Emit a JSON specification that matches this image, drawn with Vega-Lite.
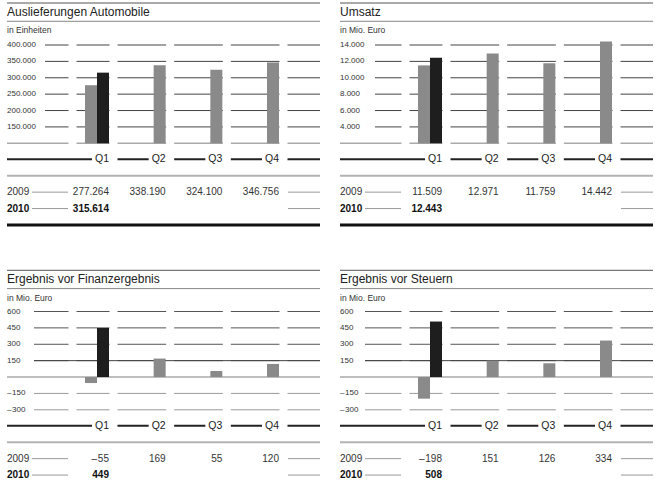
{
  "$schema": "https://vega.github.io/schema/vega-lite/v6.json",
  "padding": {"left": 5, "top": 0, "right": 0, "bottom": 0},
  "width": 646,
  "height": 480,
  "config": {
    "view": {"stroke": null},
    "font": "Liberation Sans",
    "axis": {"disable": true},
    "locale": {"number": {"decimal": ",", "thousands": ".", "grouping": [3], "currency": ["", " €"], "minus": "–\u200a"}}
  },
  "datasets": {
    "bars": [
      {"p": "A", "q": 1, "year": "2009", "value": 277264},
      {"p": "A", "q": 2, "year": "2009", "value": 338190},
      {"p": "A", "q": 3, "year": "2009", "value": 324100},
      {"p": "A", "q": 4, "year": "2009", "value": 346756},
      {"p": "A", "q": 1, "year": "2010", "value": 315614},
      {"p": "B", "q": 1, "year": "2009", "value": 11509},
      {"p": "B", "q": 2, "year": "2009", "value": 12971},
      {"p": "B", "q": 3, "year": "2009", "value": 11759},
      {"p": "B", "q": 4, "year": "2009", "value": 14442},
      {"p": "B", "q": 1, "year": "2010", "value": 12443},
      {"p": "C", "q": 1, "year": "2009", "value": -55},
      {"p": "C", "q": 2, "year": "2009", "value": 169},
      {"p": "C", "q": 3, "year": "2009", "value": 55},
      {"p": "C", "q": 4, "year": "2009", "value": 120},
      {"p": "C", "q": 1, "year": "2010", "value": 449},
      {"p": "D", "q": 1, "year": "2009", "value": -198},
      {"p": "D", "q": 2, "year": "2009", "value": 151},
      {"p": "D", "q": 3, "year": "2009", "value": 126},
      {"p": "D", "q": 4, "year": "2009", "value": 334},
      {"p": "D", "q": 1, "year": "2010", "value": 508}
    ],
    "panels": [
      {"p": "A", "title": "Auslieferungen Automobile", "unit": "in Einheiten"},
      {"p": "B", "title": "Umsatz", "unit": "in Mio. Euro"},
      {"p": "C", "title": "Ergebnis vor Finanzergebnis", "unit": "in Mio. Euro"},
      {"p": "D", "title": "Ergebnis vor Steuern", "unit": "in Mio. Euro"}
    ],
    "ticks": [
      {"p": "A", "tick": 400000}, {"p": "A", "tick": 350000}, {"p": "A", "tick": 300000},
      {"p": "A", "tick": 250000}, {"p": "A", "tick": 200000}, {"p": "A", "tick": 150000},
      {"p": "B", "tick": 14000}, {"p": "B", "tick": 12000}, {"p": "B", "tick": 10000},
      {"p": "B", "tick": 8000}, {"p": "B", "tick": 6000}, {"p": "B", "tick": 4000},
      {"p": "C", "tick": 600}, {"p": "C", "tick": 450}, {"p": "C", "tick": 300},
      {"p": "C", "tick": 150}, {"p": "C", "tick": -150}, {"p": "C", "tick": -300},
      {"p": "D", "tick": 600}, {"p": "D", "tick": 450}, {"p": "D", "tick": 300},
      {"p": "D", "tick": 150}, {"p": "D", "tick": -150}, {"p": "D", "tick": -300}
    ],
    "quarters": [
      {"q": 1, "label": "Q1"}, {"q": 2, "label": "Q2"}, {"q": 3, "label": "Q3"}, {"q": 4, "label": "Q4"}
    ],
    "cols": [{"c": 0}, {"c": 1}, {"c": 2}, {"c": 3}, {"c": 4}],
    "years": [{"year": "2009"}, {"year": "2010"}]
  },
  "resolve": {"scale": {"x": "independent", "y": "independent"}},
  "layer": [
    {
      "resolve": {"scale": {"y": "independent"}},
      "layer": [
        {"layer": [
          {"data": {"name": "ticks"}, "transform": [{"filter": "datum.p == 'A'"}],
           "mark": {"type": "rule", "color": "#444", "strokeWidth": 1},
           "encoding": {
             "x": {"datum": -0.5, "type": "quantitative", "scale": {"type": "linear", "domain": [-1, -0.5, 0, 1, 4, 5], "range": [0, 38, 61, 102, 272, 313], "nice": false, "zero": false}, "axis": null},
             "x2": {"datum": 5},
             "y": {"field": "tick", "type": "quantitative", "scale": {"domain": [100000, 400000], "range": [143.3, 45], "nice": false, "zero": false}, "axis": null}}},
          {"data": {"values": [{}]},
           "mark": {"type": "rule", "color": "#aaa", "strokeWidth": 1.5},
           "encoding": {"x": {"datum": -1, "type": "quantitative"}, "x2": {"datum": 5}, "y": {"datum": 100000, "type": "quantitative"}}},
          {"data": {"name": "cols"},
           "mark": {"type": "rect", "color": "white", "xOffset": 0.5, "x2Offset": 8.5, "yOffset": -3, "y2Offset": 3},
           "encoding": {"x": {"field": "c", "type": "quantitative"}, "x2": {"field": "c"}, "y": {"datum": 400000, "type": "quantitative"}, "y2": {"datum": 100000}}},
          {"data": {"name": "bars"}, "transform": [{"filter": "datum.p == 'A' && datum.year == '2009' && datum.q > 1"}],
           "mark": {"type": "rect", "color": "#8a8a8a", "xOffset": -12},
           "encoding": {"x": {"field": "q", "type": "quantitative"}, "x2": {"field": "q"}, "y": {"field": "value", "type": "quantitative"}, "y2": {"datum": 100000}}},
          {"data": {"name": "bars"}, "transform": [{"filter": "datum.p == 'A' && datum.year == '2009' && datum.q == 1"}],
           "mark": {"type": "rect", "color": "#8a8a8a", "xOffset": -24, "x2Offset": -12},
           "encoding": {"x": {"field": "q", "type": "quantitative"}, "x2": {"field": "q"}, "y": {"field": "value", "type": "quantitative"}, "y2": {"datum": 100000}}},
          {"data": {"name": "bars"}, "transform": [{"filter": "datum.p == 'A' && datum.year == '2010'"}],
           "mark": {"type": "rect", "color": "#1e1e1e", "xOffset": -12},
           "encoding": {"x": {"field": "q", "type": "quantitative"}, "x2": {"field": "q"}, "y": {"field": "value", "type": "quantitative"}, "y2": {"datum": 100000}}},
          {"data": {"name": "ticks"}, "transform": [{"filter": "datum.p == 'A'"}],
           "mark": {"type": "text", "align": "left", "baseline": "middle", "fontSize": 8, "color": "#333"},
           "encoding": {"x": {"datum": -1, "type": "quantitative"}, "y": {"field": "tick", "type": "quantitative"}, "text": {"field": "tick", "type": "quantitative", "format": ",d"}}}
        ]},
        {"layer": [
          {"data": {"values": [{}]}, "mark": {"type": "rule", "color": "#555", "strokeWidth": 1},
           "encoding": {"x": {"datum": -1, "type": "quantitative"}, "x2": {"datum": 5}, "y": {"datum": "top", "type": "nominal", "scale": {"type": "point", "domain": ["top", "title", "under", "sub"], "range": [3, 30.45], "padding": 0}, "axis": null}}},
          {"data": {"values": [{}]}, "mark": {"type": "rule", "color": "#888", "strokeWidth": 1},
           "encoding": {"x": {"datum": -1, "type": "quantitative"}, "x2": {"datum": 5}, "y": {"datum": "under", "type": "nominal"}}},
          {"data": {"name": "panels"}, "transform": [{"filter": "datum.p == 'A'"}],
           "mark": {"type": "text", "align": "left", "baseline": "middle", "fontSize": 12, "color": "#222"},
           "encoding": {"x": {"datum": -1, "type": "quantitative"}, "y": {"datum": "title", "type": "nominal"}, "text": {"field": "title", "type": "nominal"}}},
          {"data": {"name": "panels"}, "transform": [{"filter": "datum.p == 'A'"}],
           "mark": {"type": "text", "align": "left", "baseline": "middle", "fontSize": 8.5, "color": "#333"},
           "encoding": {"x": {"datum": -1, "type": "quantitative"}, "y": {"datum": "sub", "type": "nominal"}, "text": {"field": "unit", "type": "nominal"}}}
        ]},
        {"layer": [
          {"data": {"values": [{}]}, "mark": {"type": "rule", "color": "#222", "strokeWidth": 2},
           "encoding": {"x": {"datum": -1, "type": "quantitative"}, "x2": {"datum": 5}, "y": {"datum": "q", "type": "nominal", "scale": {"type": "point", "domain": ["q", "sep", "2009", "2010", "end"], "range": [159.3, 225], "padding": 0}, "axis": null}}},
          {"data": {"name": "quarters"}, "mark": {"type": "rule", "color": "white", "strokeWidth": 6, "xOffset": -17, "x2Offset": 8.5},
           "encoding": {"x": {"field": "q", "type": "quantitative"}, "x2": {"field": "q"}, "y": {"datum": "q", "type": "nominal"}}},
          {"data": {"name": "quarters"}, "mark": {"type": "text", "align": "right", "baseline": "middle", "fontSize": 10.5, "color": "#222"},
           "encoding": {"x": {"field": "q", "type": "quantitative"}, "y": {"datum": "q", "type": "nominal"}, "text": {"field": "label", "type": "nominal"}}},
          {"data": {"values": [{}]}, "mark": {"type": "rule", "color": "#b3b3b3", "strokeWidth": 2},
           "encoding": {"x": {"datum": -1, "type": "quantitative"}, "x2": {"datum": 5}, "y": {"datum": "sep", "type": "nominal"}}},
          {"data": {"name": "years"}, "mark": {"type": "rule", "color": "#999", "strokeWidth": 1, "xOffset": -36},
           "encoding": {"x": {"datum": 0, "type": "quantitative"}, "x2": {"datum": 0}, "y": {"field": "year", "type": "nominal"}}},
          {"data": {"name": "years"}, "mark": {"type": "rule", "color": "#999", "strokeWidth": 1, "xOffset": 9},
           "encoding": {"x": {"datum": 4, "type": "quantitative"}, "x2": {"datum": 5}, "y": {"field": "year", "type": "nominal"}}},
          {"data": {"name": "years"}, "transform": [{"filter": "datum.year == '2009'"}],
           "mark": {"type": "text", "align": "left", "baseline": "middle", "fontSize": 10, "color": "#333"},
           "encoding": {"x": {"datum": -1, "type": "quantitative"}, "y": {"field": "year", "type": "nominal"}, "text": {"field": "year", "type": "nominal"}}},
          {"data": {"name": "years"}, "transform": [{"filter": "datum.year == '2010'"}],
           "mark": {"type": "text", "align": "left", "baseline": "middle", "fontSize": 10, "fontWeight": "bold", "color": "#111"},
           "encoding": {"x": {"datum": -1, "type": "quantitative"}, "y": {"field": "year", "type": "nominal"}, "text": {"field": "year", "type": "nominal"}}},
          {"data": {"name": "bars"}, "transform": [{"filter": "datum.p == 'A' && datum.year == '2009'"}],
           "mark": {"type": "text", "align": "right", "baseline": "middle", "fontSize": 10, "color": "#333"},
           "encoding": {"x": {"field": "q", "type": "quantitative"}, "y": {"field": "year", "type": "nominal"}, "text": {"field": "value", "type": "quantitative", "format": ",d"}}},
          {"data": {"name": "bars"}, "transform": [{"filter": "datum.p == 'A' && datum.year == '2010'"}],
           "mark": {"type": "text", "align": "right", "baseline": "middle", "fontSize": 10, "fontWeight": "bold", "color": "#111"},
           "encoding": {"x": {"field": "q", "type": "quantitative"}, "y": {"field": "year", "type": "nominal"}, "text": {"field": "value", "type": "quantitative", "format": ",d"}}},
          {"data": {"values": [{}]}, "mark": {"type": "rule", "color": "#111", "strokeWidth": 3},
           "encoding": {"x": {"datum": -1, "type": "quantitative"}, "x2": {"datum": 5}, "y": {"datum": "end", "type": "nominal"}}}
        ]}
      ]
    },
    {
      "resolve": {"scale": {"y": "independent"}},
      "layer": [
        {"layer": [
          {"data": {"name": "ticks"}, "transform": [{"filter": "datum.p == 'B'"}],
           "mark": {"type": "rule", "color": "#444", "strokeWidth": 1},
           "encoding": {
             "x": {"datum": -0.5, "type": "quantitative", "scale": {"type": "linear", "domain": [-1, -0.5, 0, 1, 4, 5], "range": [333, 368, 394, 435, 605, 646], "nice": false, "zero": false}, "axis": null},
             "x2": {"datum": 5},
             "y": {"field": "tick", "type": "quantitative", "scale": {"domain": [2000, 14000], "range": [143.3, 45], "nice": false, "zero": false}, "axis": null}}},
          {"data": {"values": [{}]},
           "mark": {"type": "rule", "color": "#aaa", "strokeWidth": 1.5},
           "encoding": {"x": {"datum": -1, "type": "quantitative"}, "x2": {"datum": 5}, "y": {"datum": 2000, "type": "quantitative"}}},
          {"data": {"name": "cols"},
           "mark": {"type": "rect", "color": "white", "xOffset": 0.5, "x2Offset": 8.5, "yOffset": -3, "y2Offset": 3},
           "encoding": {"x": {"field": "c", "type": "quantitative"}, "x2": {"field": "c"}, "y": {"datum": 14000, "type": "quantitative"}, "y2": {"datum": 2000}}},
          {"data": {"name": "bars"}, "transform": [{"filter": "datum.p == 'B' && datum.year == '2009' && datum.q > 1"}],
           "mark": {"type": "rect", "color": "#8a8a8a", "xOffset": -12},
           "encoding": {"x": {"field": "q", "type": "quantitative"}, "x2": {"field": "q"}, "y": {"field": "value", "type": "quantitative"}, "y2": {"datum": 2000}}},
          {"data": {"name": "bars"}, "transform": [{"filter": "datum.p == 'B' && datum.year == '2009' && datum.q == 1"}],
           "mark": {"type": "rect", "color": "#8a8a8a", "xOffset": -24, "x2Offset": -12},
           "encoding": {"x": {"field": "q", "type": "quantitative"}, "x2": {"field": "q"}, "y": {"field": "value", "type": "quantitative"}, "y2": {"datum": 2000}}},
          {"data": {"name": "bars"}, "transform": [{"filter": "datum.p == 'B' && datum.year == '2010'"}],
           "mark": {"type": "rect", "color": "#1e1e1e", "xOffset": -12},
           "encoding": {"x": {"field": "q", "type": "quantitative"}, "x2": {"field": "q"}, "y": {"field": "value", "type": "quantitative"}, "y2": {"datum": 2000}}},
          {"data": {"name": "ticks"}, "transform": [{"filter": "datum.p == 'B'"}],
           "mark": {"type": "text", "align": "left", "baseline": "middle", "fontSize": 8, "color": "#333"},
           "encoding": {"x": {"datum": -1, "type": "quantitative"}, "y": {"field": "tick", "type": "quantitative"}, "text": {"field": "tick", "type": "quantitative", "format": ",d"}}}
        ]},
        {"layer": [
          {"data": {"values": [{}]}, "mark": {"type": "rule", "color": "#555", "strokeWidth": 1},
           "encoding": {"x": {"datum": -1, "type": "quantitative"}, "x2": {"datum": 5}, "y": {"datum": "top", "type": "nominal", "scale": {"type": "point", "domain": ["top", "title", "under", "sub"], "range": [3, 30.45], "padding": 0}, "axis": null}}},
          {"data": {"values": [{}]}, "mark": {"type": "rule", "color": "#888", "strokeWidth": 1},
           "encoding": {"x": {"datum": -1, "type": "quantitative"}, "x2": {"datum": 5}, "y": {"datum": "under", "type": "nominal"}}},
          {"data": {"name": "panels"}, "transform": [{"filter": "datum.p == 'B'"}],
           "mark": {"type": "text", "align": "left", "baseline": "middle", "fontSize": 12, "color": "#222"},
           "encoding": {"x": {"datum": -1, "type": "quantitative"}, "y": {"datum": "title", "type": "nominal"}, "text": {"field": "title", "type": "nominal"}}},
          {"data": {"name": "panels"}, "transform": [{"filter": "datum.p == 'B'"}],
           "mark": {"type": "text", "align": "left", "baseline": "middle", "fontSize": 8.5, "color": "#333"},
           "encoding": {"x": {"datum": -1, "type": "quantitative"}, "y": {"datum": "sub", "type": "nominal"}, "text": {"field": "unit", "type": "nominal"}}}
        ]},
        {"layer": [
          {"data": {"values": [{}]}, "mark": {"type": "rule", "color": "#222", "strokeWidth": 2},
           "encoding": {"x": {"datum": -1, "type": "quantitative"}, "x2": {"datum": 5}, "y": {"datum": "q", "type": "nominal", "scale": {"type": "point", "domain": ["q", "sep", "2009", "2010", "end"], "range": [159.3, 225], "padding": 0}, "axis": null}}},
          {"data": {"name": "quarters"}, "mark": {"type": "rule", "color": "white", "strokeWidth": 6, "xOffset": -17, "x2Offset": 8.5},
           "encoding": {"x": {"field": "q", "type": "quantitative"}, "x2": {"field": "q"}, "y": {"datum": "q", "type": "nominal"}}},
          {"data": {"name": "quarters"}, "mark": {"type": "text", "align": "right", "baseline": "middle", "fontSize": 10.5, "color": "#222"},
           "encoding": {"x": {"field": "q", "type": "quantitative"}, "y": {"datum": "q", "type": "nominal"}, "text": {"field": "label", "type": "nominal"}}},
          {"data": {"values": [{}]}, "mark": {"type": "rule", "color": "#b3b3b3", "strokeWidth": 2},
           "encoding": {"x": {"datum": -1, "type": "quantitative"}, "x2": {"datum": 5}, "y": {"datum": "sep", "type": "nominal"}}},
          {"data": {"name": "years"}, "mark": {"type": "rule", "color": "#999", "strokeWidth": 1, "xOffset": -36},
           "encoding": {"x": {"datum": 0, "type": "quantitative"}, "x2": {"datum": 0}, "y": {"field": "year", "type": "nominal"}}},
          {"data": {"name": "years"}, "mark": {"type": "rule", "color": "#999", "strokeWidth": 1, "xOffset": 9},
           "encoding": {"x": {"datum": 4, "type": "quantitative"}, "x2": {"datum": 5}, "y": {"field": "year", "type": "nominal"}}},
          {"data": {"name": "years"}, "transform": [{"filter": "datum.year == '2009'"}],
           "mark": {"type": "text", "align": "left", "baseline": "middle", "fontSize": 10, "color": "#333"},
           "encoding": {"x": {"datum": -1, "type": "quantitative"}, "y": {"field": "year", "type": "nominal"}, "text": {"field": "year", "type": "nominal"}}},
          {"data": {"name": "years"}, "transform": [{"filter": "datum.year == '2010'"}],
           "mark": {"type": "text", "align": "left", "baseline": "middle", "fontSize": 10, "fontWeight": "bold", "color": "#111"},
           "encoding": {"x": {"datum": -1, "type": "quantitative"}, "y": {"field": "year", "type": "nominal"}, "text": {"field": "year", "type": "nominal"}}},
          {"data": {"name": "bars"}, "transform": [{"filter": "datum.p == 'B' && datum.year == '2009'"}],
           "mark": {"type": "text", "align": "right", "baseline": "middle", "fontSize": 10, "color": "#333"},
           "encoding": {"x": {"field": "q", "type": "quantitative"}, "y": {"field": "year", "type": "nominal"}, "text": {"field": "value", "type": "quantitative", "format": ",d"}}},
          {"data": {"name": "bars"}, "transform": [{"filter": "datum.p == 'B' && datum.year == '2010'"}],
           "mark": {"type": "text", "align": "right", "baseline": "middle", "fontSize": 10, "fontWeight": "bold", "color": "#111"},
           "encoding": {"x": {"field": "q", "type": "quantitative"}, "y": {"field": "year", "type": "nominal"}, "text": {"field": "value", "type": "quantitative", "format": ",d"}}},
          {"data": {"values": [{}]}, "mark": {"type": "rule", "color": "#111", "strokeWidth": 3},
           "encoding": {"x": {"datum": -1, "type": "quantitative"}, "x2": {"datum": 5}, "y": {"datum": "end", "type": "nominal"}}}
        ]}
      ]
    },
    {
      "resolve": {"scale": {"y": "independent"}},
      "layer": [
        {"layer": [
          {"data": {"name": "ticks"}, "transform": [{"filter": "datum.p == 'C'"}],
           "mark": {"type": "rule", "strokeWidth": 1},
           "encoding": {
             "x": {"datum": -0.5, "type": "quantitative", "scale": {"type": "linear", "domain": [-1, -0.5, 0, 1, 4, 5], "range": [0, 27, 61, 102, 272, 313], "nice": false, "zero": false}, "axis": null},
             "x2": {"datum": 5},
             "y": {"field": "tick", "type": "quantitative", "scale": {"domain": [-300, 600], "range": [409.8, 311.5], "nice": false, "zero": false}, "axis": null},
             "color": {"condition": {"test": "datum.tick < 0", "value": "#999"}, "value": "#555"}}},
          {"data": {"name": "cols"},
           "mark": {"type": "rect", "color": "white", "xOffset": 0.5, "x2Offset": 8.5, "yOffset": -3, "y2Offset": 3},
           "encoding": {"x": {"field": "c", "type": "quantitative"}, "x2": {"field": "c"}, "y": {"datum": 600, "type": "quantitative"}, "y2": {"datum": -300}}},
          {"data": {"values": [{}]},
           "mark": {"type": "rule", "color": "#444", "strokeWidth": 1},
           "encoding": {"x": {"datum": -0.5, "type": "quantitative"}, "x2": {"datum": 5}, "y": {"datum": 150, "type": "quantitative"}}},
          {"data": {"values": [{}]},
           "mark": {"type": "rule", "color": "#aaa", "strokeWidth": 1.5},
           "encoding": {"x": {"datum": -1, "type": "quantitative"}, "x2": {"datum": 5}, "y": {"datum": 0, "type": "quantitative"}}},
          {"data": {"name": "bars"}, "transform": [{"filter": "datum.p == 'C' && datum.year == '2009' && datum.q > 1"}],
           "mark": {"type": "rect", "color": "#8a8a8a", "xOffset": -12},
           "encoding": {"x": {"field": "q", "type": "quantitative"}, "x2": {"field": "q"}, "y": {"field": "value", "type": "quantitative"}, "y2": {"datum": 0}}},
          {"data": {"name": "bars"}, "transform": [{"filter": "datum.p == 'C' && datum.year == '2009' && datum.q == 1"}],
           "mark": {"type": "rect", "color": "#8a8a8a", "xOffset": -24, "x2Offset": -12},
           "encoding": {"x": {"field": "q", "type": "quantitative"}, "x2": {"field": "q"}, "y": {"field": "value", "type": "quantitative"}, "y2": {"datum": 0}}},
          {"data": {"name": "bars"}, "transform": [{"filter": "datum.p == 'C' && datum.year == '2010'"}],
           "mark": {"type": "rect", "color": "#1e1e1e", "xOffset": -12},
           "encoding": {"x": {"field": "q", "type": "quantitative"}, "x2": {"field": "q"}, "y": {"field": "value", "type": "quantitative"}, "y2": {"datum": 0}}},
          {"data": {"name": "ticks"}, "transform": [{"filter": "datum.p == 'C'"}],
           "mark": {"type": "text", "align": "left", "baseline": "middle", "fontSize": 8, "color": "#333"},
           "encoding": {"x": {"datum": -1, "type": "quantitative"}, "y": {"field": "tick", "type": "quantitative"}, "text": {"field": "tick", "type": "quantitative", "format": ",d"}}}
        ]},
        {"layer": [
          {"data": {"values": [{}]}, "mark": {"type": "rule", "color": "#555", "strokeWidth": 1},
           "encoding": {"x": {"datum": -1, "type": "quantitative"}, "x2": {"datum": 5}, "y": {"datum": "top", "type": "nominal", "scale": {"type": "point", "domain": ["top", "title", "under", "sub"], "range": [270.3, 297.75], "padding": 0}, "axis": null}}},
          {"data": {"values": [{}]}, "mark": {"type": "rule", "color": "#888", "strokeWidth": 1},
           "encoding": {"x": {"datum": -1, "type": "quantitative"}, "x2": {"datum": 5}, "y": {"datum": "under", "type": "nominal"}}},
          {"data": {"name": "panels"}, "transform": [{"filter": "datum.p == 'C'"}],
           "mark": {"type": "text", "align": "left", "baseline": "middle", "fontSize": 12, "color": "#222"},
           "encoding": {"x": {"datum": -1, "type": "quantitative"}, "y": {"datum": "title", "type": "nominal"}, "text": {"field": "title", "type": "nominal"}}},
          {"data": {"name": "panels"}, "transform": [{"filter": "datum.p == 'C'"}],
           "mark": {"type": "text", "align": "left", "baseline": "middle", "fontSize": 8.5, "color": "#333"},
           "encoding": {"x": {"datum": -1, "type": "quantitative"}, "y": {"datum": "sub", "type": "nominal"}, "text": {"field": "unit", "type": "nominal"}}}
        ]},
        {"layer": [
          {"data": {"values": [{}]}, "mark": {"type": "rule", "color": "#222", "strokeWidth": 2},
           "encoding": {"x": {"datum": -1, "type": "quantitative"}, "x2": {"datum": 5}, "y": {"datum": "q", "type": "nominal", "scale": {"type": "point", "domain": ["q", "sep", "2009", "2010", "end"], "range": [425.8, 491.5], "padding": 0}, "axis": null}}},
          {"data": {"name": "quarters"}, "mark": {"type": "rule", "color": "white", "strokeWidth": 6, "xOffset": -17, "x2Offset": 8.5},
           "encoding": {"x": {"field": "q", "type": "quantitative"}, "x2": {"field": "q"}, "y": {"datum": "q", "type": "nominal"}}},
          {"data": {"name": "quarters"}, "mark": {"type": "text", "align": "right", "baseline": "middle", "fontSize": 10.5, "color": "#222"},
           "encoding": {"x": {"field": "q", "type": "quantitative"}, "y": {"datum": "q", "type": "nominal"}, "text": {"field": "label", "type": "nominal"}}},
          {"data": {"values": [{}]}, "mark": {"type": "rule", "color": "#b3b3b3", "strokeWidth": 2},
           "encoding": {"x": {"datum": -1, "type": "quantitative"}, "x2": {"datum": 5}, "y": {"datum": "sep", "type": "nominal"}}},
          {"data": {"name": "years"}, "mark": {"type": "rule", "color": "#999", "strokeWidth": 1, "xOffset": -36},
           "encoding": {"x": {"datum": 0, "type": "quantitative"}, "x2": {"datum": 0}, "y": {"field": "year", "type": "nominal"}}},
          {"data": {"name": "years"}, "mark": {"type": "rule", "color": "#999", "strokeWidth": 1, "xOffset": 9},
           "encoding": {"x": {"datum": 4, "type": "quantitative"}, "x2": {"datum": 5}, "y": {"field": "year", "type": "nominal"}}},
          {"data": {"name": "years"}, "transform": [{"filter": "datum.year == '2009'"}],
           "mark": {"type": "text", "align": "left", "baseline": "middle", "fontSize": 10, "color": "#333"},
           "encoding": {"x": {"datum": -1, "type": "quantitative"}, "y": {"field": "year", "type": "nominal"}, "text": {"field": "year", "type": "nominal"}}},
          {"data": {"name": "years"}, "transform": [{"filter": "datum.year == '2010'"}],
           "mark": {"type": "text", "align": "left", "baseline": "middle", "fontSize": 10, "fontWeight": "bold", "color": "#111"},
           "encoding": {"x": {"datum": -1, "type": "quantitative"}, "y": {"field": "year", "type": "nominal"}, "text": {"field": "year", "type": "nominal"}}},
          {"data": {"name": "bars"}, "transform": [{"filter": "datum.p == 'C' && datum.year == '2009'"}],
           "mark": {"type": "text", "align": "right", "baseline": "middle", "fontSize": 10, "color": "#333"},
           "encoding": {"x": {"field": "q", "type": "quantitative"}, "y": {"field": "year", "type": "nominal"}, "text": {"field": "value", "type": "quantitative", "format": ",d"}}},
          {"data": {"name": "bars"}, "transform": [{"filter": "datum.p == 'C' && datum.year == '2010'"}],
           "mark": {"type": "text", "align": "right", "baseline": "middle", "fontSize": 10, "fontWeight": "bold", "color": "#111"},
           "encoding": {"x": {"field": "q", "type": "quantitative"}, "y": {"field": "year", "type": "nominal"}, "text": {"field": "value", "type": "quantitative", "format": ",d"}}}
        ]}
      ]
    },
    {
      "resolve": {"scale": {"y": "independent"}},
      "layer": [
        {"layer": [
          {"data": {"name": "ticks"}, "transform": [{"filter": "datum.p == 'D'"}],
           "mark": {"type": "rule", "strokeWidth": 1},
           "encoding": {
             "x": {"datum": -0.5, "type": "quantitative", "scale": {"type": "linear", "domain": [-1, -0.5, 0, 1, 4, 5], "range": [333, 358, 394, 435, 605, 646], "nice": false, "zero": false}, "axis": null},
             "x2": {"datum": 5},
             "y": {"field": "tick", "type": "quantitative", "scale": {"domain": [-300, 600], "range": [409.8, 311.5], "nice": false, "zero": false}, "axis": null},
             "color": {"condition": {"test": "datum.tick < 0", "value": "#999"}, "value": "#555"}}},
          {"data": {"name": "cols"},
           "mark": {"type": "rect", "color": "white", "xOffset": 0.5, "x2Offset": 8.5, "yOffset": -3, "y2Offset": 3},
           "encoding": {"x": {"field": "c", "type": "quantitative"}, "x2": {"field": "c"}, "y": {"datum": 600, "type": "quantitative"}, "y2": {"datum": -300}}},
          {"data": {"values": [{}]},
           "mark": {"type": "rule", "color": "#444", "strokeWidth": 1},
           "encoding": {"x": {"datum": -0.5, "type": "quantitative"}, "x2": {"datum": 5}, "y": {"datum": 150, "type": "quantitative"}}},
          {"data": {"values": [{}]},
           "mark": {"type": "rule", "color": "#aaa", "strokeWidth": 1.5},
           "encoding": {"x": {"datum": -1, "type": "quantitative"}, "x2": {"datum": 5}, "y": {"datum": 0, "type": "quantitative"}}},
          {"data": {"name": "bars"}, "transform": [{"filter": "datum.p == 'D' && datum.year == '2009' && datum.q > 1"}],
           "mark": {"type": "rect", "color": "#8a8a8a", "xOffset": -12},
           "encoding": {"x": {"field": "q", "type": "quantitative"}, "x2": {"field": "q"}, "y": {"field": "value", "type": "quantitative"}, "y2": {"datum": 0}}},
          {"data": {"name": "bars"}, "transform": [{"filter": "datum.p == 'D' && datum.year == '2009' && datum.q == 1"}],
           "mark": {"type": "rect", "color": "#8a8a8a", "xOffset": -24, "x2Offset": -12},
           "encoding": {"x": {"field": "q", "type": "quantitative"}, "x2": {"field": "q"}, "y": {"field": "value", "type": "quantitative"}, "y2": {"datum": 0}}},
          {"data": {"name": "bars"}, "transform": [{"filter": "datum.p == 'D' && datum.year == '2010'"}],
           "mark": {"type": "rect", "color": "#1e1e1e", "xOffset": -12},
           "encoding": {"x": {"field": "q", "type": "quantitative"}, "x2": {"field": "q"}, "y": {"field": "value", "type": "quantitative"}, "y2": {"datum": 0}}},
          {"data": {"name": "ticks"}, "transform": [{"filter": "datum.p == 'D'"}],
           "mark": {"type": "text", "align": "left", "baseline": "middle", "fontSize": 8, "color": "#333"},
           "encoding": {"x": {"datum": -1, "type": "quantitative"}, "y": {"field": "tick", "type": "quantitative"}, "text": {"field": "tick", "type": "quantitative", "format": ",d"}}}
        ]},
        {"layer": [
          {"data": {"values": [{}]}, "mark": {"type": "rule", "color": "#555", "strokeWidth": 1},
           "encoding": {"x": {"datum": -1, "type": "quantitative"}, "x2": {"datum": 5}, "y": {"datum": "top", "type": "nominal", "scale": {"type": "point", "domain": ["top", "title", "under", "sub"], "range": [270.3, 297.75], "padding": 0}, "axis": null}}},
          {"data": {"values": [{}]}, "mark": {"type": "rule", "color": "#888", "strokeWidth": 1},
           "encoding": {"x": {"datum": -1, "type": "quantitative"}, "x2": {"datum": 5}, "y": {"datum": "under", "type": "nominal"}}},
          {"data": {"name": "panels"}, "transform": [{"filter": "datum.p == 'D'"}],
           "mark": {"type": "text", "align": "left", "baseline": "middle", "fontSize": 12, "color": "#222"},
           "encoding": {"x": {"datum": -1, "type": "quantitative"}, "y": {"datum": "title", "type": "nominal"}, "text": {"field": "title", "type": "nominal"}}},
          {"data": {"name": "panels"}, "transform": [{"filter": "datum.p == 'D'"}],
           "mark": {"type": "text", "align": "left", "baseline": "middle", "fontSize": 8.5, "color": "#333"},
           "encoding": {"x": {"datum": -1, "type": "quantitative"}, "y": {"datum": "sub", "type": "nominal"}, "text": {"field": "unit", "type": "nominal"}}}
        ]},
        {"layer": [
          {"data": {"values": [{}]}, "mark": {"type": "rule", "color": "#222", "strokeWidth": 2},
           "encoding": {"x": {"datum": -1, "type": "quantitative"}, "x2": {"datum": 5}, "y": {"datum": "q", "type": "nominal", "scale": {"type": "point", "domain": ["q", "sep", "2009", "2010", "end"], "range": [425.8, 491.5], "padding": 0}, "axis": null}}},
          {"data": {"name": "quarters"}, "mark": {"type": "rule", "color": "white", "strokeWidth": 6, "xOffset": -17, "x2Offset": 8.5},
           "encoding": {"x": {"field": "q", "type": "quantitative"}, "x2": {"field": "q"}, "y": {"datum": "q", "type": "nominal"}}},
          {"data": {"name": "quarters"}, "mark": {"type": "text", "align": "right", "baseline": "middle", "fontSize": 10.5, "color": "#222"},
           "encoding": {"x": {"field": "q", "type": "quantitative"}, "y": {"datum": "q", "type": "nominal"}, "text": {"field": "label", "type": "nominal"}}},
          {"data": {"values": [{}]}, "mark": {"type": "rule", "color": "#b3b3b3", "strokeWidth": 2},
           "encoding": {"x": {"datum": -1, "type": "quantitative"}, "x2": {"datum": 5}, "y": {"datum": "sep", "type": "nominal"}}},
          {"data": {"name": "years"}, "mark": {"type": "rule", "color": "#999", "strokeWidth": 1, "xOffset": -36},
           "encoding": {"x": {"datum": 0, "type": "quantitative"}, "x2": {"datum": 0}, "y": {"field": "year", "type": "nominal"}}},
          {"data": {"name": "years"}, "mark": {"type": "rule", "color": "#999", "strokeWidth": 1, "xOffset": 9},
           "encoding": {"x": {"datum": 4, "type": "quantitative"}, "x2": {"datum": 5}, "y": {"field": "year", "type": "nominal"}}},
          {"data": {"name": "years"}, "transform": [{"filter": "datum.year == '2009'"}],
           "mark": {"type": "text", "align": "left", "baseline": "middle", "fontSize": 10, "color": "#333"},
           "encoding": {"x": {"datum": -1, "type": "quantitative"}, "y": {"field": "year", "type": "nominal"}, "text": {"field": "year", "type": "nominal"}}},
          {"data": {"name": "years"}, "transform": [{"filter": "datum.year == '2010'"}],
           "mark": {"type": "text", "align": "left", "baseline": "middle", "fontSize": 10, "fontWeight": "bold", "color": "#111"},
           "encoding": {"x": {"datum": -1, "type": "quantitative"}, "y": {"field": "year", "type": "nominal"}, "text": {"field": "year", "type": "nominal"}}},
          {"data": {"name": "bars"}, "transform": [{"filter": "datum.p == 'D' && datum.year == '2009'"}],
           "mark": {"type": "text", "align": "right", "baseline": "middle", "fontSize": 10, "color": "#333"},
           "encoding": {"x": {"field": "q", "type": "quantitative"}, "y": {"field": "year", "type": "nominal"}, "text": {"field": "value", "type": "quantitative", "format": ",d"}}},
          {"data": {"name": "bars"}, "transform": [{"filter": "datum.p == 'D' && datum.year == '2010'"}],
           "mark": {"type": "text", "align": "right", "baseline": "middle", "fontSize": 10, "fontWeight": "bold", "color": "#111"},
           "encoding": {"x": {"field": "q", "type": "quantitative"}, "y": {"field": "year", "type": "nominal"}, "text": {"field": "value", "type": "quantitative", "format": ",d"}}}
        ]}
      ]
    }
  ]
}
